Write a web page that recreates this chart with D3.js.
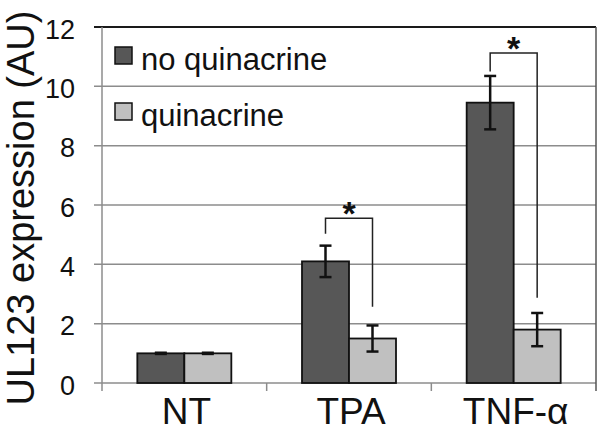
<!DOCTYPE html>
<html>
<head>
<meta charset="utf-8">
<script src="https://cdn.jsdelivr.net/npm/d3@7"></script>
<style>
  body { margin: 0; background: #fff; }
  text { font-family: "Liberation Sans", Arial, sans-serif; }
</style>
</head>
<body>
<div id="chart"></div>
<script>
var categories = ["NT", "TPA", "TNF-α"];
var seriesNames = ["no quinacrine", "quinacrine"];
var noQuin = [1.0, 4.1, 9.45];
var noQuinErr = [0.02, 0.53, 0.9];
var quin = [1.0, 1.5, 1.8];
var quinErr = [0.02, 0.44, 0.56];
var yTicks = [0, 2, 4, 6, 8, 10, 12];

// significance brackets (data units)
var sigCats = ["TPA", "TNF-α"];
var sigTop = [5.55, 11.12];
var sigLeftEnd = [5.03, 10.5];
var sigRightEnd = [2.57, 2.87];

var width = 600, height = 431;
var margin = {top: 27, right: 4, bottom: 48, left: 102};
var w = width - margin.left - margin.right,
    h = height - margin.top - margin.bottom;

var colors = ["#575757", "#c0c0c0"];

var svg = d3.select("#chart").append("svg")
  .attr("width", width)
  .attr("height", height);

var g = svg.append("g")
  .attr("transform", "translate(" + margin.left + "," + margin.top + ")");

var x = d3.scaleBand().domain(categories).range([0, w]).padding(0);
var y = d3.scaleLinear().domain([0, 12]).range([h, 0]);
var barW = 47;
var xSub = d3.scaleBand().domain(seriesNames)
  .range([x.bandwidth() / 2 - barW, x.bandwidth() / 2 + barW]);

// gridlines + y ticks
g.selectAll(".grid")
  .data(yTicks)
  .enter()
  .append("line")
    .attr("x1", -8)
    .attr("x2", w)
    .attr("y1", function(d) { return y(d); })
    .attr("y2", function(d) { return y(d); })
    .attr("stroke", function(d) { return d == 12 ? "#1a1a1a" : "#8c8c8c"; })
    .style("stroke-width", function(d) { return d == 12 ? 2 : 1.5; });

g.selectAll(".ylab")
  .data(yTicks)
  .enter()
  .append("text")
    .attr("x", -27)
    .attr("y", function(d) { return y(d); })
    .attr("dy", "0.43em")
    .attr("text-anchor", "end")
    .style("font-size", "27px")
    .style("fill", "#111")
    .text(function(d) { return d; });

// left axis and right border
g.append("line")
  .attr("x1", 0).attr("x2", 0)
  .attr("y1", 0).attr("y2", h + 8)
  .attr("stroke", "#8c8c8c")
  .style("stroke-width", 1.5);
g.append("line")
  .attr("x1", w).attr("x2", w)
  .attr("y1", 0).attr("y2", h + 8)
  .attr("stroke", "#555")
  .style("stroke-width", 1.5);

// x category ticks
g.selectAll(".xtick")
  .data(categories.slice(1))
  .enter()
  .append("line")
    .attr("x1", function(d) { return x(d); })
    .attr("x2", function(d) { return x(d); })
    .attr("y1", h)
    .attr("y2", h + 8)
    .attr("stroke", "#8c8c8c")
    .style("stroke-width", 1.5);

g.selectAll(".xlab")
  .data(categories)
  .enter()
  .append("text")
    .attr("x", function(d) { return x(d) + x.bandwidth() / 2 + 2; })
    .attr("y", h + 41)
    .attr("text-anchor", "middle")
    .style("font-size", "37px")
    .style("fill", "#111")
    .text(function(d) { return d; });

// bars
var rows = categories.map(function(c, i) {
  return [
    {cat: c, s: seriesNames[0], v: noQuin[i], e: noQuinErr[i], k: 0},
    {cat: c, s: seriesNames[1], v: quin[i], e: quinErr[i], k: 1}
  ];
});
var flat = [].concat.apply([], rows);

g.selectAll(".bar")
  .data(flat)
  .enter()
  .append("rect")
    .attr("x", function(d) { return x(d.cat) + xSub(d.s); })
    .attr("y", function(d) { return y(d.v); })
    .attr("width", xSub.bandwidth())
    .attr("height", function(d) { return y(0) - y(d.v); })
    .attr("fill", function(d) { return colors[d.k]; })
    .attr("stroke", "#111")
    .style("stroke-width", 1.8);

// error bars
var eb = g.selectAll(".err")
  .data(flat)
  .enter()
  .append("g")
    .attr("transform", function(d) {
      return "translate(" + (x(d.cat) + xSub(d.s) + xSub.bandwidth() / 2) + ",0)";
    });
eb.append("line")
  .attr("x1", 0).attr("x2", 0)
  .attr("y1", function(d) { return y(d.v + d.e); })
  .attr("y2", function(d) { return y(d.v - d.e); })
  .attr("stroke", "#111").style("stroke-width", 2.5);
eb.append("line")
  .attr("x1", -6).attr("x2", 6)
  .attr("y1", function(d) { return y(d.v + d.e); })
  .attr("y2", function(d) { return y(d.v + d.e); })
  .attr("stroke", "#111").style("stroke-width", 2.5);
eb.append("line")
  .attr("x1", -6).attr("x2", 6)
  .attr("y1", function(d) { return y(d.v - d.e); })
  .attr("y2", function(d) { return y(d.v - d.e); })
  .attr("stroke", "#111").style("stroke-width", 2.5);

// significance brackets
sigCats.forEach(function(c, i) {
  var xl = x(c) + xSub(seriesNames[0]) + xSub.bandwidth() / 2;
  var xr = x(c) + xSub(seriesNames[1]) + xSub.bandwidth() / 2;
  g.append("path")
    .attr("d", "M" + xl + "," + y(sigLeftEnd[i]) + "V" + y(sigTop[i]) +
               "H" + xr + "V" + y(sigRightEnd[i]))
    .attr("fill", "none")
    .attr("stroke", "#222")
    .style("stroke-width", 1.5);
  g.append("text")
    .attr("x", (xl + xr) / 2)
    .attr("y", y(sigTop[i]) + 7)
    .attr("text-anchor", "middle")
    .style("font-size", "34px")
    .style("font-weight", "bold")
    .style("fill", "#111")
    .text("*");
});

// legend
var leg = g.selectAll(".leg")
  .data(seriesNames)
  .enter()
  .append("g")
    .attr("transform", function(d, i) { return "translate(13," + (20 + i * 56) + ")"; });
leg.append("rect")
  .attr("width", 17).attr("height", 17)
  .attr("fill", function(d, i) { return colors[i]; })
  .attr("stroke", "#111")
  .style("stroke-width", 1.5);
leg.append("text")
  .attr("x", 26)
  .attr("y", 23)
  .style("font-size", "31px")
  .style("fill", "#111")
  .text(function(d) { return d; });

// y axis title
svg.append("text")
  .attr("transform", "translate(34,208) rotate(-90)")
  .attr("text-anchor", "middle")
  .style("font-size", "38px")
  .style("fill", "#111")
  .text("UL123 expression (AU)");
</script>
</body>
</html>
